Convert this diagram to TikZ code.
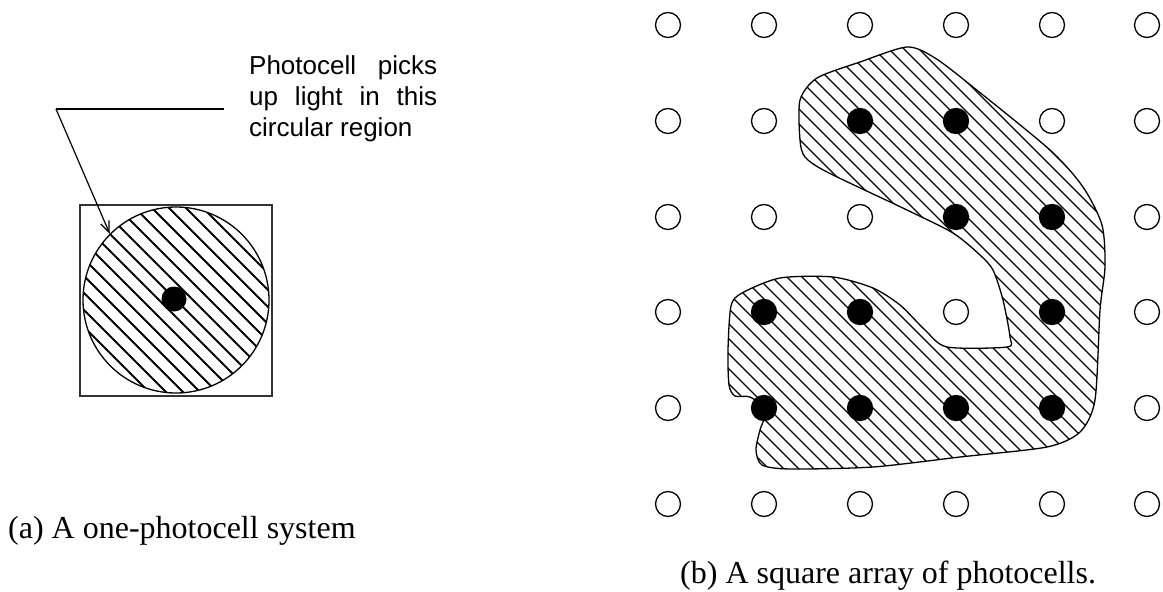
\documentclass[tikz,border=0pt]{standalone}
\usepackage{fontspec}
\setmainfont{Liberation Serif}
\newfontfamily\helv{Liberation Sans}
\usetikzlibrary{arrows.meta}
\tikzset{
  cell/.style={circle, draw, line width=1.3pt, minimum size=25pt, inner sep=0pt},
  litcell/.style={circle, fill=black, minimum size=25pt, inner sep=0pt},
  hatchline/.style={line width=1.3pt},
  outline/.style={line width=1.3pt},
  caption/.style={font=\fontsize{32}{38}\selectfont, inner sep=0pt, anchor=base west},
}
\begin{document}
\begin{tikzpicture}[x=1pt,y=-1pt]
\useasboundingbox (0,0) rectangle (1163,592);

% ---------- (a) single photocell ----------
\node[draw=black!80, line width=2pt, minimum width=192pt, minimum height=191pt, inner sep=0pt] (frame) at (176,300.5) {};
\begin{scope}
  \clip (176,300) circle (93);
  \foreach \k in {-14,...,14}
    \draw[line width=1.8pt] ({176+17*\k-120},180) -- ({176+17*\k+120},420);
\end{scope}
\node[circle, draw, line width=1.3pt, minimum size=186pt, inner sep=0pt] (spot) at (176,300) {};
\node[litcell] (cell) at (174,299) {};

\node[font=\helv\fontsize{26}{31}\selectfont, align=left, inner sep=0pt, anchor=north west] (note) at (249,55)
  {\makebox[188pt][s]{Photocell picks}\\\makebox[188pt][s]{up light in this}\\circular region};
\coordinate (leadend) at (224,109);
\coordinate (bend) at (56,109);
\draw[line width=1.3pt] (leadend) -- (bend);
\draw[line width=1.2pt, -{Straight Barb[length=11pt,width=9pt]}] (bend) -- (spot.135);

\node[caption] (capa) at (8,538) {(a) A one-photocell system};

% ---------- (b) square array ----------
\def\blob{plot[smooth cycle, tension=0.45] coordinates {
  (907,47) (935,58) (973,87) (1050,150) (1083,187) (1102,225) (1105,267)
  (1100,310) (1095,400) (1080,432) (1047,447) (960,457) (873,467) (790,469)
  (762,465) (756,450) (760,430) (766,410) (750,397) (735,396) (729,385)
  (728,350) (731,306) (742,293) (780,278) (833,277) (873,288) (900,305)
  (925,330) (947,347) (1007,347) (1010,337) (1003,300) (993,270) (980,255)
  (953,233) (907,210) (827,172) (805,157) (800,140) (800,100) (817,78) (860,62)}}
\begin{scope}
  \clip \blob;
  \foreach \k in {-40,...,40}
    \draw[hatchline] ({920+15*\k-300},-40) -- ({920+15*\k+300},560);
\end{scope}
\draw[outline] \blob;

\foreach \c [count=\i] in {668,764,860,956,1052,1147}
  \foreach \r [count=\j] in {25,121,217,312,408,504}
    \node[cell, fill=white] (c-\i-\j) at (\c,\r) {};
\foreach \i/\j in {3/2,4/2,4/3,5/3,2/4,3/4,5/4,2/5,3/5,4/5,5/5}
  \node[litcell] at (c-\i-\j) {};

\node[caption] (capb) at (680,583) {(b) A square array of photocells.};
\end{tikzpicture}
\end{document}
